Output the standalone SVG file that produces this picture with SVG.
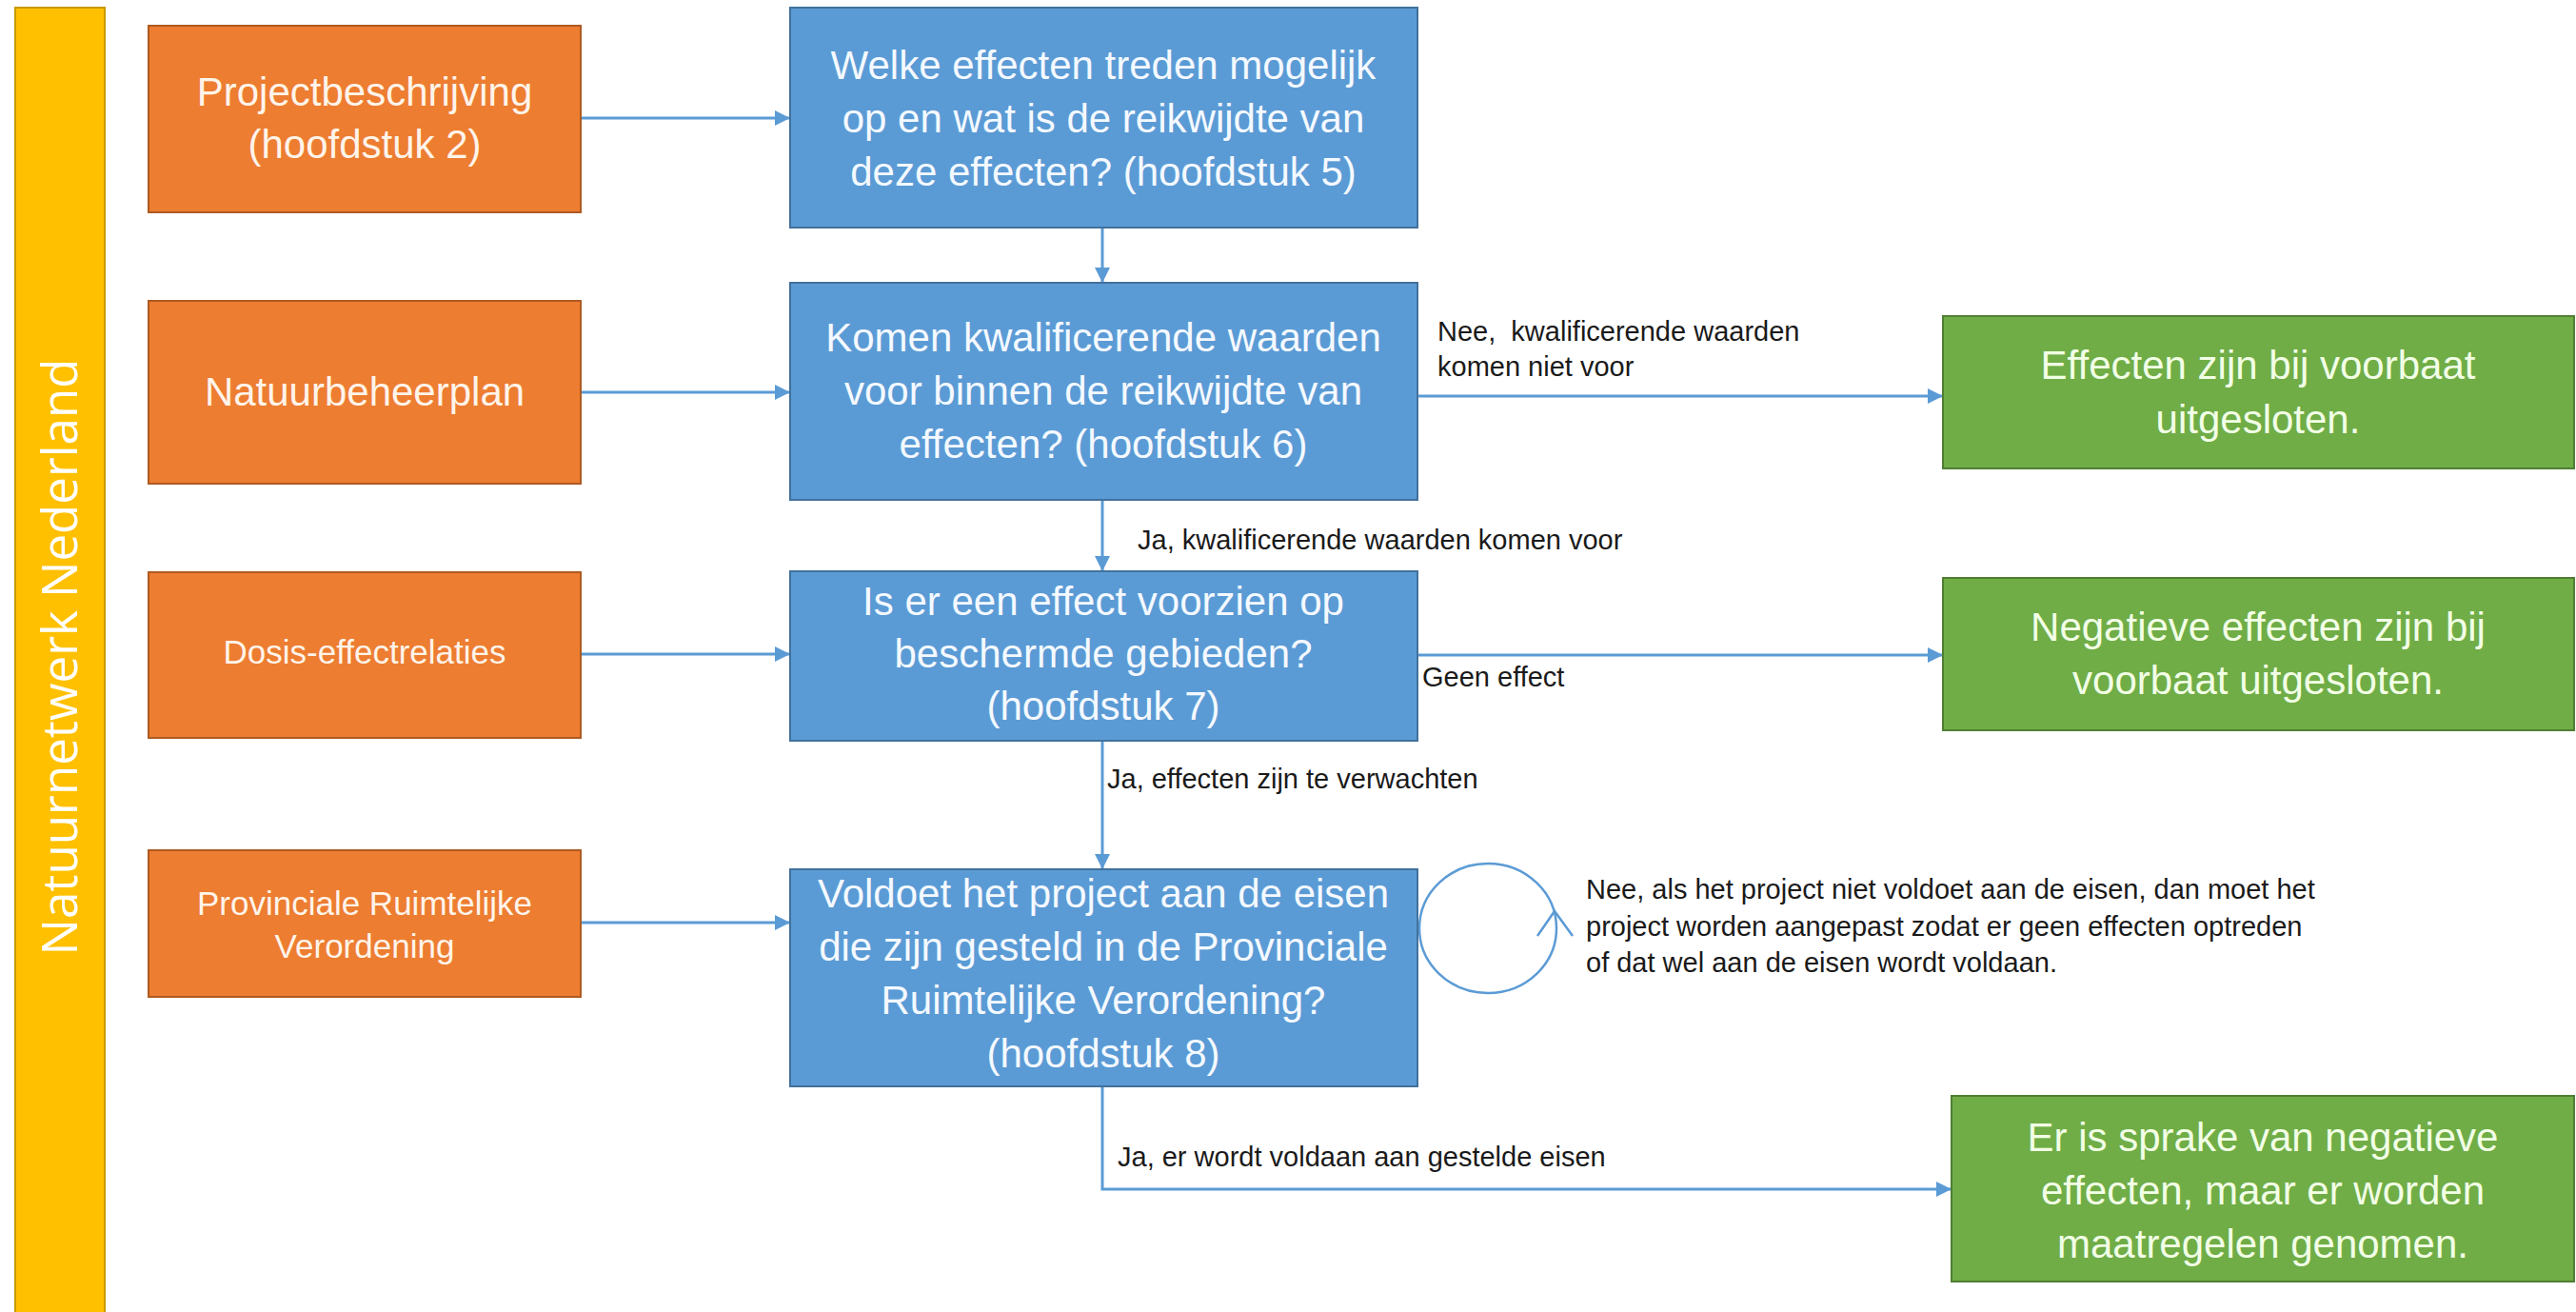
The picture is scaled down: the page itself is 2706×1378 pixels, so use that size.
<svg xmlns="http://www.w3.org/2000/svg" width="2706" height="1378" viewBox="0 0 2706 1378">
  <style>
    .bar { fill: #FFC000; stroke: #C99A00; stroke-width: 2; }
    .org { fill: #ED7D31; stroke: #AE5A21; stroke-width: 2; }
    .blu { fill: #5B9BD5; stroke: #41719C; stroke-width: 2; }
    .grn { fill: #70AD47; stroke: #507E32; stroke-width: 2; }
    .t { font-family: "Liberation Sans", Arial, sans-serif; text-anchor: middle; }
    .tb { font-size: 42px; fill: #F4F9FF; }
    .to { font-size: 42px; fill: #FFF4EA; }
    .tos { font-size: 35px; fill: #FFF4EA; }
    .tg { font-size: 42px; fill: #F2FFE6; }
    .lbl { font-family: "Liberation Sans", Arial, sans-serif; font-size: 29px; fill: #1A1A1A; }
    .bartxt { font-family: "Open Sans", "Liberation Sans", sans-serif; font-size: 51px; fill: #FFFFFF; text-anchor: middle; }
    .con { fill: none; stroke: #5B9BD5; stroke-width: 3; }
  </style>
  <defs>
    <marker id="arr" markerUnits="userSpaceOnUse" markerWidth="17" markerHeight="16" refX="16" refY="8" orient="auto">
      <path d="M0,0 L16,8 L0,16 z" fill="#5B9BD5"/>
    </marker>
  </defs>

  <rect x="0" y="0" width="2706" height="1378" fill="#FFFFFF"/>

  <g id="bar">
    <rect class="bar" x="16" y="8" width="94" height="1380"/>
    <text class="bartxt" x="81" y="690" transform="rotate(-90 81 690)">Natuurnetwerk Nederland</text>
  </g>

  <g id="connectors">
    <line class="con" x1="610" y1="124" x2="830" y2="124" marker-end="url(#arr)"/>
    <line class="con" x1="610" y1="412" x2="830" y2="412" marker-end="url(#arr)"/>
    <line class="con" x1="610" y1="687" x2="830" y2="687" marker-end="url(#arr)"/>
    <line class="con" x1="610" y1="969" x2="830" y2="969" marker-end="url(#arr)"/>
    <line class="con" x1="1158" y1="239" x2="1158" y2="297" marker-end="url(#arr)"/>
    <line class="con" x1="1158" y1="525" x2="1158" y2="600" marker-end="url(#arr)"/>
    <line class="con" x1="1158" y1="778" x2="1158" y2="913" marker-end="url(#arr)"/>
    <line class="con" x1="1489" y1="416" x2="2041" y2="416" marker-end="url(#arr)"/>
    <line class="con" x1="1489" y1="688" x2="2041" y2="688" marker-end="url(#arr)"/>
    <polyline class="con" points="1158,1141 1158,1249 2050,1249" marker-end="url(#arr)"/>
    <ellipse cx="1563" cy="975" rx="72" ry="68" fill="none" stroke="#5B9BD5" stroke-width="2.5"/>
    <polyline points="1615,983 1633,957 1652,983" fill="none" stroke="#5B9BD5" stroke-width="2.5"/>
    <text class="lbl" x="1510" y="358" xml:space="preserve">Nee,  kwalificerende waarden</text>
    <text class="lbl" x="1510" y="395">komen niet voor</text>
    <text class="lbl" x="1195" y="577">Ja, kwalificerende waarden komen voor</text>
    <text class="lbl" x="1494" y="721">Geen effect</text>
    <text class="lbl" x="1163" y="828">Ja, effecten zijn te verwachten</text>
    <text class="lbl" x="1666" y="944">Nee, als het project niet voldoet aan de eisen, dan moet het</text>
    <text class="lbl" x="1666" y="983">project worden aangepast zodat er geen effecten optreden</text>
    <text class="lbl" x="1666" y="1021">of dat wel aan de eisen wordt voldaan.</text>
    <text class="lbl" x="1174" y="1225">Ja, er wordt voldaan aan gestelde eisen</text>
  </g>

  <g id="o1">
    <rect class="org" x="156" y="27" width="454" height="196"/>
    <text class="t to" x="383" y="111">Projectbeschrijving</text>
    <text class="t to" x="383" y="166">(hoofdstuk 2)</text>
  </g>
  <g id="o2">
    <rect class="org" x="156" y="316" width="454" height="192"/>
    <text class="t to" x="383" y="426">Natuurbeheerplan</text>
  </g>
  <g id="o3">
    <rect class="org" x="156" y="601" width="454" height="174"/>
    <text class="t tos" x="383" y="697">Dosis-effectrelaties</text>
  </g>
  <g id="o4">
    <rect class="org" x="156" y="893" width="454" height="154"/>
    <text class="t tos" x="383" y="961">Provinciale Ruimtelijke</text>
    <text class="t tos" x="383" y="1006">Verordening</text>
  </g>

  <g id="b1">
    <rect class="blu" x="830" y="8" width="659" height="231"/>
    <text class="t tb" x="1159" y="83">Welke effecten treden mogelijk</text>
    <text class="t tb" x="1159" y="139">op en wat is de reikwijdte van</text>
    <text class="t tb" x="1159" y="195">deze effecten? (hoofdstuk 5)</text>
  </g>
  <g id="b2">
    <rect class="blu" x="830" y="297" width="659" height="228"/>
    <text class="t tb" x="1159" y="369">Komen kwalificerende waarden</text>
    <text class="t tb" x="1159" y="425">voor binnen de reikwijdte van</text>
    <text class="t tb" x="1159" y="481">effecten? (hoofdstuk 6)</text>
  </g>
  <g id="b3">
    <rect class="blu" x="830" y="600" width="659" height="178"/>
    <text class="t tb" x="1159" y="646">Is er een effect voorzien op</text>
    <text class="t tb" x="1159" y="701">beschermde gebieden?</text>
    <text class="t tb" x="1159" y="756">(hoofdstuk 7)</text>
  </g>
  <g id="b4">
    <rect class="blu" x="830" y="913" width="659" height="228"/>
    <text class="t tb" x="1159" y="953">Voldoet het project aan de eisen</text>
    <text class="t tb" x="1159" y="1009">die zijn gesteld in de Provinciale</text>
    <text class="t tb" x="1159" y="1065">Ruimtelijke Verordening?</text>
    <text class="t tb" x="1159" y="1121">(hoofdstuk 8)</text>
  </g>

  <g id="g1">
    <rect class="grn" x="2041" y="332" width="663" height="160"/>
    <text class="t tg" x="2372" y="398">Effecten zijn bij voorbaat</text>
    <text class="t tg" x="2372" y="455">uitgesloten.</text>
  </g>
  <g id="g2">
    <rect class="grn" x="2041" y="607" width="663" height="160"/>
    <text class="t tg" x="2372" y="673">Negatieve effecten zijn bij</text>
    <text class="t tg" x="2372" y="729">voorbaat uitgesloten.</text>
  </g>
  <g id="g3">
    <rect class="grn" x="2050" y="1151" width="654" height="195"/>
    <text class="t tg" x="2377" y="1209">Er is sprake van negatieve</text>
    <text class="t tg" x="2377" y="1265">effecten, maar er worden</text>
    <text class="t tg" x="2377" y="1321">maatregelen genomen.</text>
  </g>
</svg>
